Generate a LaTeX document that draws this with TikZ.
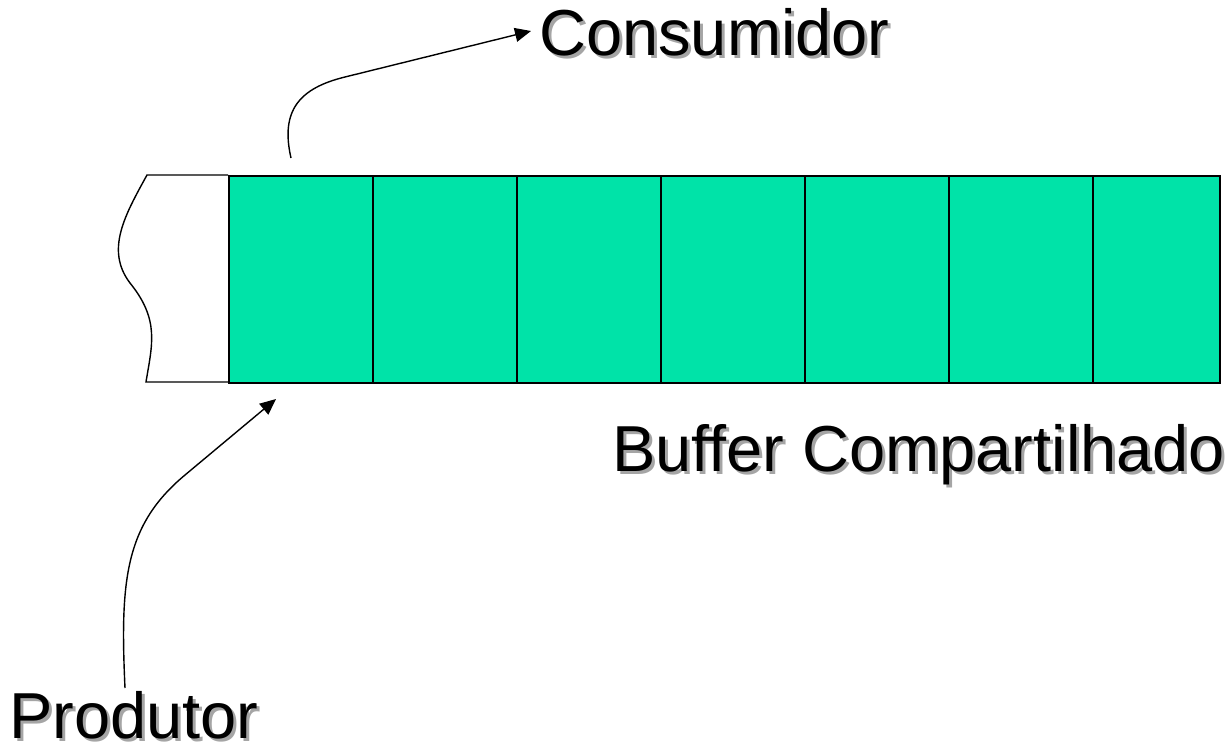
\documentclass[tikz,border=0pt]{standalone}
\usepackage{fontspec}
\setmainfont{Liberation Sans}
\usetikzlibrary{arrows.meta}
\definecolor{bufgreen}{RGB}{0,227,168}
\definecolor{shadowgray}{RGB}{165,165,165}
\newcommand\shadowtxt[1]{\makebox[0pt][l]{\hspace{3pt}\raisebox{-3pt}[0pt][0pt]{\color{shadowgray}#1}}#1}
\tikzset{
  cell/.style={draw=black, line width=1.7pt, fill=bufgreen, minimum height=207pt, inner sep=0pt, anchor=north west},
  label/.style={font=\fontsize{65}{72}\selectfont, inner sep=0pt, anchor=base west},
  conn/.style={line width=1.4pt, -{Triangle[length=16pt,width=14pt]}},
  edge/.style={line width=1.4pt}
}
\begin{document}
\begin{tikzpicture}[x=1pt,y=-1pt]
\useasboundingbox (0,0) rectangle (1226,750);
% white front part with wavy edge
\draw[edge] (228,175) -- (147,175) .. controls (125,215) and (105,250) .. (130,283)
  .. controls (160,320) and (152,345) .. (146,382) -- (228,382);
% buffer cells
\node[cell, minimum width=144pt] (c1) at (228,175) {};
\node[cell, minimum width=144pt] (c2) at (372,175) {};
\node[cell, minimum width=144pt] (c3) at (516,175) {};
\node[cell, minimum width=144pt] (c4) at (660,175) {};
\node[cell, minimum width=144pt] (c5) at (804,175) {};
\node[cell, minimum width=144pt] (c6) at (948,175) {};
\node[cell, minimum width=127pt] (c7) at (1092,175) {};
% labels
\node[label] (cons) at (539,55) {\shadowtxt{Consumidor}};
\node[label] (prod) at (9,738) {\shadowtxt{Produtor}};
\node[label] (buf) at (612,471) {\shadowtxt{Buffer Compartilhado}};
% connectors
\coordinate (cstart) at (291,158);
\coordinate (pstart) at (125,688);
\coordinate (ptip) at (276,399);
\coordinate (ctip) at (531,31);
\draw[conn] (cstart) .. controls (280,110) and (300,88) .. (345,77) -- (ctip);
\draw[conn] (pstart) .. controls (120,580) and (125,525) .. (185,475) -- (ptip);
\end{tikzpicture}
\end{document}
